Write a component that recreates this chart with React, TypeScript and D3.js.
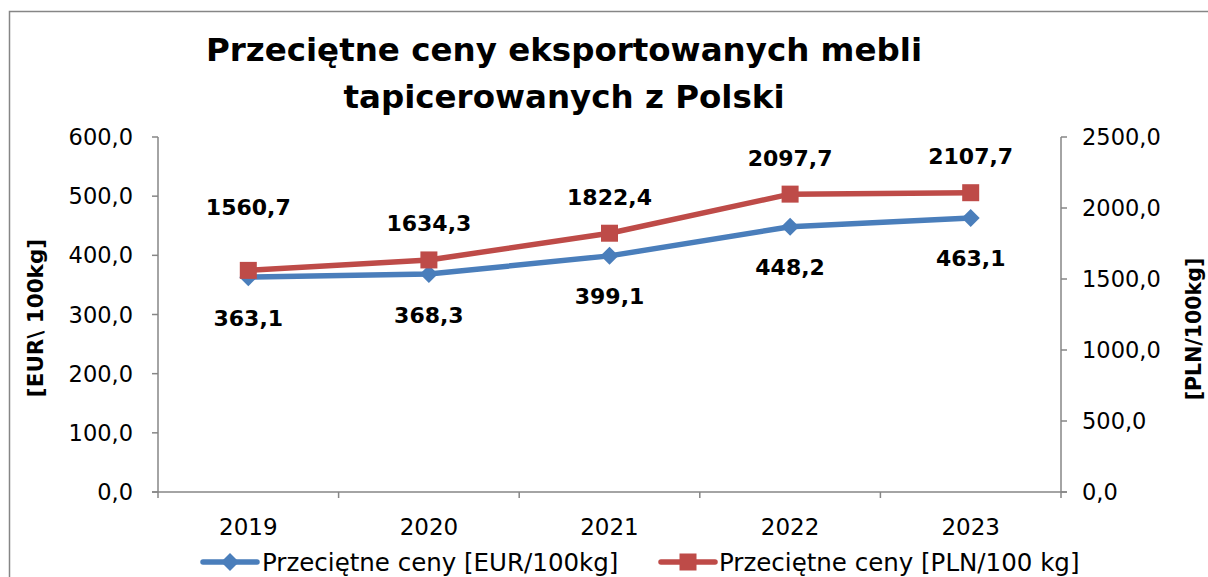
import React from "react";
import * as d3 from "d3";

const categories = ["2019", "2020", "2021", "2022", "2023"];
const eurValues = [363.1, 368.3, 399.1, 448.2, 463.1];
const plnValues = [1560.7, 1634.3, 1822.4, 2097.7, 2107.7];
const leftTicks = [0, 100, 200, 300, 400, 500, 600];
const rightTicks = [0, 500, 1000, 1500, 2000, 2500];
const titleLines = ["Przeciętne ceny eksportowanych mebli", "tapicerowanych z Polski"];
const seriesNames = ["Przeciętne ceny [EUR/100kg]", "Przeciętne ceny [PLN/100 kg]"];

const W = 1208;
const H = 577;
const FONT = "'DejaVu Sans', sans-serif";
const BLUE = "#4A7EBB";
const RED = "#BE4B48";
const AXIS = "#868686";

const fmt = (v: number) => v.toFixed(1).replace(".", ",");

export default function App() {
  const left = 158, right = 1061, top = 137, bottom = 492;
  const x = d3.scaleBand<string>().domain(categories).range([left, right]);
  const yL = d3.scaleLinear().domain([0, 600]).range([bottom, top]);
  const yR = d3.scaleLinear().domain([0, 2500]).range([bottom, top]);
  const cx = (c: string) => (x(c) as number) + x.bandwidth() / 2;

  const line = d3.line<[number, number]>().x(d => d[0]).y(d => d[1]).curve(d3.curveLinear);
  const eurPts: [number, number][] = categories.map((c, i) => [cx(c), yL(eurValues[i])]);
  const plnPts: [number, number][] = categories.map((c, i) => [cx(c), yR(plnValues[i])]);

  const diamond = (px: number, py: number, r: number) =>
    `M${px},${py - r}L${px + r},${py}L${px},${py + r}L${px - r},${py}Z`;

  const bounds = [...categories.map(c => x(c) as number), right];

  return (
    <svg width={W} height={H} style={{ position: "absolute", left: 0, top: 0, fontFamily: FONT }}>
      <rect x={0} y={0} width={W} height={H} fill="#fff" />
      <rect x={9.5} y={11.5} width={W + 20} height={H + 20} fill="#fff" stroke={AXIS} strokeWidth={1.5} />
      {titleLines.map((t, i) => (
        <text key={i} x={564} y={50 + i * 47} textAnchor="middle" dominantBaseline="central"
          fontSize={32.5} fontWeight="bold" fill="#000">{t}</text>
      ))}
      {/* left axis */}
      <line x1={left} x2={left} y1={top} y2={bottom} stroke={AXIS} strokeWidth={1.5} />
      {leftTicks.map(t => (
        <g key={t}>
          <line x1={left - 6} x2={left} y1={yL(t)} y2={yL(t)} stroke={AXIS} strokeWidth={1.5} />
          <text x={133} y={yL(t)} textAnchor="end" dominantBaseline="central" fontSize={22.5} fill="#000">{fmt(t)}</text>
        </g>
      ))}
      {/* right axis */}
      <line x1={right} x2={right} y1={top} y2={bottom} stroke={AXIS} strokeWidth={1.5} />
      {rightTicks.map(t => (
        <g key={t}>
          <line x1={right} x2={right + 6} y1={yR(t)} y2={yR(t)} stroke={AXIS} strokeWidth={1.5} />
          <text x={1082} y={yR(t)} textAnchor="start" dominantBaseline="central" fontSize={22.5} fill="#000">{fmt(t)}</text>
        </g>
      ))}
      {/* x axis */}
      <line x1={left - 6} x2={right + 6} y1={bottom} y2={bottom} stroke={AXIS} strokeWidth={1.5} />
      {bounds.map((b, i) => (
        <line key={i} x1={b} x2={b} y1={bottom} y2={bottom + 6} stroke={AXIS} strokeWidth={1.5} />
      ))}
      {categories.map(c => (
        <text key={c} x={cx(c)} y={527} textAnchor="middle" dominantBaseline="central" fontSize={23} fill="#000">{c}</text>
      ))}
      {/* axis titles */}
      <text transform={`translate(35,318) rotate(-90)`} textAnchor="middle" dominantBaseline="central"
        fontSize={21.5} fontWeight="bold" fill="#000">[EUR\ 100kg]</text>
      <text transform={`translate(1194,329) rotate(-90)`} textAnchor="middle" dominantBaseline="central"
        fontSize={20.5} fontWeight="bold" fill="#000">[PLN/100kg]</text>
      {/* series */}
      <path d={line(eurPts) as string} fill="none" stroke={BLUE} strokeWidth={5.5} strokeLinejoin="round" />
      {eurPts.map((p, i) => (
        <path key={i} d={diamond(p[0], p[1], 9)} fill={BLUE} />
      ))}
      <path d={line(plnPts) as string} fill="none" stroke={RED} strokeWidth={5.5} strokeLinejoin="round" />
      {plnPts.map((p, i) => (
        <rect key={i} x={p[0] - 8.5} y={p[1] - 8.5} width={17} height={17} fill={RED} />
      ))}
      {/* data labels */}
      {eurPts.map((p, i) => (
        <text key={i} x={p[0]} y={p[1] + 41} textAnchor="middle" dominantBaseline="central"
          fontSize={22} fontWeight="bold" fill="#000">{fmt(eurValues[i])}</text>
      ))}
      {plnPts.map((p, i) => (
        <text key={i} x={p[0]} y={p[1] - (i === 0 ? 63 : 36)} textAnchor="middle" dominantBaseline="central"
          fontSize={22} fontWeight="bold" fill="#000">{fmt(plnValues[i])}</text>
      ))}
      {/* legend */}
      <line x1={203} x2={257} y1={562} y2={562} stroke={BLUE} strokeWidth={5.5} strokeLinecap="round" />
      <path d={diamond(230, 562, 9)} fill={BLUE} />
      <text x={262} y={562} dominantBaseline="central" fontSize={24.5} fill="#000">{seriesNames[0]}</text>
      <line x1={661} x2={715} y1={562} y2={562} stroke={RED} strokeWidth={5.5} strokeLinecap="round" />
      <rect x={679.5} y={553.5} width={17} height={17} fill={RED} />
      <text x={719} y={562} dominantBaseline="central" fontSize={24.5} fill="#000">{seriesNames[1]}</text>
    </svg>
  );
}
